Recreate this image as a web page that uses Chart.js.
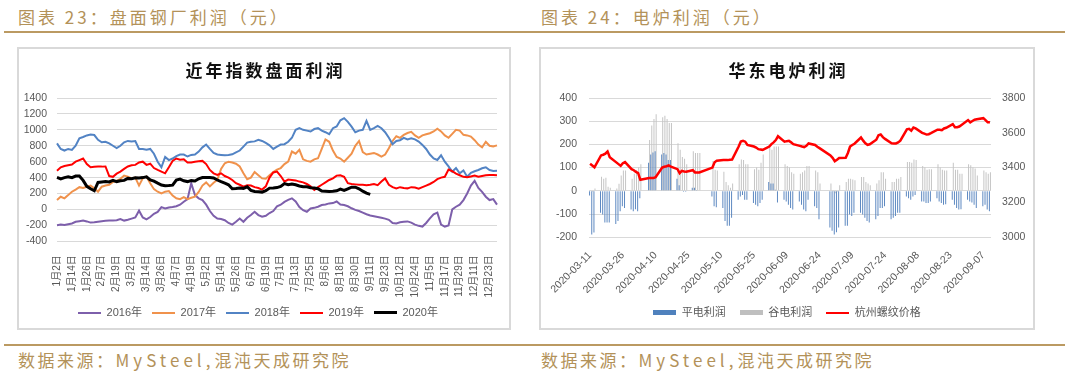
<!DOCTYPE html>
<html><head><meta charset="utf-8">
<script src="https://cdn.jsdelivr.net/npm/chart.js@4.4.1/dist/chart.umd.min.js"></script>
<style>
html,body{margin:0;padding:0;background:#fff;}
body{width:1072px;height:375px;position:relative;overflow:hidden;font-family:'Noto Sans CJK SC',sans-serif;}
.hdr{position:absolute;top:4px;font-size:17px;line-height:26px;color:#b39259;letter-spacing:3px;white-space:nowrap;}
.ftr{position:absolute;top:347px;font-size:17px;line-height:26px;color:#b39259;letter-spacing:2.5px;white-space:nowrap;}
.ftr span{letter-spacing:4px;}
.rule{position:absolute;left:4px;width:1061px;height:2px;background:#bb9a62;}
.box{position:absolute;top:47px;height:283px;border:2px solid #d9d9d9;box-sizing:border-box;}
.box canvas{position:absolute;left:0;top:0;}
.ttl{position:absolute;left:0;right:0;top:9px;padding-left:3px;text-align:center;font-size:17px;font-weight:700;line-height:24px;letter-spacing:3px;color:#111;}
</style></head><body>
<div class="hdr" style="left:18px">图表 23：盘面钢厂利润（元）</div>
<div class="hdr" style="left:541px">图表 24：电炉利润（元）</div>
<div class="rule" style="top:31px"></div>
<div class="box" style="left:17px;width:494px"><canvas id="c1" width="490" height="279"></canvas><div class="ttl">近年指数盘面利润</div></div>
<div class="box" style="left:539px;width:496px"><canvas id="c2" width="492" height="279"></canvas><div class="ttl">华东电炉利润</div></div>
<div class="rule" style="top:344px"></div>
<div class="ftr" style="left:18px">数据来源：<span>MySteel,</span>混沌天成研究院</div>
<div class="ftr" style="left:541px">数据来源：<span>MySteel,</span>混沌天成研究院</div>
<script>
// ---------- Chart 23 data ----------
const tickLabels23 = ['1月2日','1月14日','1月26日','2月7日','2月19日','3月2日','3月14日','3月26日','4月7日','4月19日','5月2日','5月14日','5月26日','6月7日','6月19日','7月1日','7月13日','7月25日','8月6日','8月18日','8月30日','9月11日','9月23日','10月12日','10月24日','11月5日','11月17日','11月29日','12月11日','12月23日'];
const seriesNames23 = ['2016年','2017年','2018年','2019年','2020年'];
const profit2016 = [-197,-190,-195,-185,-176,-155,-147,-140,-150,-165,-162,-155,-147,-143,-138,-140,-135,-120,-140,-130,-115,-100,-15,-100,-125,-95,-55,-30,30,13,25,30,40,60,97,130,330,180,140,118,60,-20,-80,-115,-120,-135,-170,-190,-155,-115,-155,-105,-70,-30,-71,-92,-80,-45,-20,40,60,95,120,140,100,30,-10,-29,13,20,34,55,63,76,80,100,63,55,40,15,-5,-20,-40,-60,-75,-85,-95,-105,-115,-130,-170,-176,-160,-155,-150,-165,-190,-206,-215,-170,-113,-60,-40,-190,-215,-200,0,34,60,118,200,300,360,270,220,160,118,130,60];
const profit2017 = [118,160,140,180,223,250,280,270,286,300,265,223,286,300,310,345,360,385,425,412,391,400,300,390,412,330,255,223,202,223,231,175,140,130,155,130,147,160,220,300,340,290,335,370,510,580,600,590,575,540,454,380,400,470,430,390,385,430,470,500,520,570,600,727,700,748,630,610,600,630,643,760,880,850,740,660,640,600,650,700,800,860,720,690,700,710,690,665,690,770,860,920,900,937,960,975,930,900,930,945,958,980,1015,980,930,900,950,1000,990,937,930,915,870,815,780,850,800,790,805];
const profit2018 = [830,760,740,760,748,800,895,910,930,940,935,874,844,850,830,800,770,800,844,861,855,860,760,760,750,760,700,600,530,660,620,640,670,690,690,665,685,690,727,780,815,760,710,690,685,680,685,693,718,740,790,840,850,855,874,860,835,805,760,790,815,820,850,900,1000,1021,1000,990,979,1010,1021,990,970,945,1021,1042,1120,1147,1100,1040,970,990,1000,1113,1000,1021,1050,1020,970,900,820,860,870,900,880,895,880,853,811,760,690,640,622,680,600,540,475,520,454,490,412,460,480,496,517,530,496,483,485];
const profit2019 = [487,529,546,555,565,600,620,640,570,530,535,538,538,540,420,410,450,475,510,540,555,560,590,600,560,575,520,496,475,454,530,610,640,625,630,590,590,600,605,610,570,496,454,433,454,420,400,370,330,310,286,305,300,280,270,250,290,400,465,475,420,350,375,370,365,350,340,320,290,245,280,310,340,370,390,425,430,410,330,320,315,310,310,305,310,320,305,350,390,310,280,265,280,270,265,280,275,260,280,300,320,345,380,400,410,500,480,450,430,410,405,415,425,410,420,430,433,433,430];
const profit2020 = [403,385,400,410,400,420,420,365,290,260,235,340,345,350,345,365,350,360,365,390,385,399,395,400,410,370,355,330,307,298,300,305,370,382,360,350,362,357,385,400,400,400,395,370,349,330,310,260,262,270,265,285,240,225,223,218,235,268,270,275,290,325,310,320,310,295,286,285,273,270,260,231,230,225,228,235,256,240,260,280,280,260,230,205,190];

// ---------- Chart 24 data ----------
const firstDay24 = '2020-03-11';
const dayCount24 = 184;
const holidays24 = ['2020-04-06','2020-05-01','2020-05-04','2020-05-05','2020-06-25','2020-06-26'];
const seriesNames24 = ['平电利润','谷电利润','杭州螺纹价格'];
const flatProfit = [-20,-188,-180, -95,-102,-137,-137,-137, -143,-130,-88,-67,-74, -81,-88,-80,-88,-32, 121,156,165,170, 156,163,156,133,133, 52,24,0,-4,-4, 13,13,3,0, -25,-67,-71, -74,-130,-151,-151,-116, -39,-25,-18,-39,-39, -53,-60,-67,-53,-39, 38,31,31,5,-50, -39,-46,-60,-74,-81, -46,-60,-81,-88,-39, -67,-74,-123, -158,-172,-188,-179,-158, -151,-151,-102,-109,-95, -95,-102,-116,-130,-137, -123,-109,-74,-74,-67, -123,-116,-109,-95,-95, -25,-32,-39,-25,-18, -46,-46,-53,-53,-46, -32,-46,-53,-60,-58, -39,-60,-74,-81,-80, -39,-46,-50,-60,-74, -67,-60,-81,-88];
const valleyProfit = [0,-5,10, 61,52,56,17,13, 10,30,66,87,87, 52,73,90,100,114, 219,282,310,330, 317,324,310,292,292, 205,177,146,138,114, 170,163,163,163, 128,91,87, 82,38,24,13,31, 114,135,133,114,114, 93,100,91,121,156, 191,177,191,191,191, 114,107,100,80,73, 73,80,87,107,107, 87,80,31, 31,-4,-11,-4,24, 38,52,52,49,45, 59,59,38,31,24, 31,45,80,80,52, 38,38,52,52,59, 124,124,121,135,133, 107,100,91,93,93, 114,100,91,87,87, 121,91,91,73,73, 114,110,100,96,66, 87,80,73,80];
const rebarPrice = [3422,3412,3402, 3470,3474,3480,3493,3460, 3430,3420,3410,3425,3432, 3391,3385,3375,3368,3330, 3340,3340,3340,3345, 3400,3405,3408,3413,3405, 3391,3368,3381,3378,3376, 3385,3372,3372,3372, 3400,3430,3440, 3443,3443,3443,3445,3446, 3521,3550,3554,3549,3530, 3521,3515,3506,3504,3502, 3521,3535,3545,3558,3580, 3549,3552,3554,3545,3535, 3525,3521,3518,3525,3539, 3530,3520,3512, 3470,3456,3437,3445,3455, 3456,3484,3521,3530,3537, 3573,3555,3540,3530,3534, 3560,3586,3590,3575,3565, 3540,3539,3539,3545,3555, 3620,3623,3612,3630,3625, 3600,3595,3590,3592,3598, 3618,3618,3615,3625,3629, 3650,3632,3632,3636,3645, 3673,3660,3668,3675,3678, 3684,3673,3660,3660];

// ---------- helpers ----------
const TICK = '#595959';
const GRID = '#d9d9d9';
const FONT = "'Liberation Sans','Noto Sans CJK SC',sans-serif";
const plain = v => String(v);
function swatch(color, w, h) {
  const c = document.createElement('canvas');
  c.width = w; c.height = h;
  const g = c.getContext('2d');
  g.fillStyle = color; g.fillRect(0, 0, w, h);
  return c;
}
function legendOpts(swatches, pad) {
  return {
    position: 'bottom',
    labels: {
      usePointStyle: true, pointStyleWidth: 23, padding: pad,
      color: TICK, font: {size: 11, family: FONT},
      generateLabels: chart => chart.data.datasets.map((ds, i) => ({
        text: ds.label, pointStyle: swatches[i], fillStyle: ds.borderColor,
        strokeStyle: ds.borderColor, lineWidth: 0, hidden: false, datasetIndex: i, fontColor: TICK
      }))
    }
  };
}

// ---------- Chart 23 ----------
const labels23 = [];
tickLabels23.forEach(t => { labels23.push(t, '', '', ''); });
while (labels23.length > profit2016.length) labels23.pop();
while (labels23.length < profit2016.length) labels23.push('');

const colors23 = ['#7d5fab', '#f0924c', '#5283c4', '#ff0000', '#000000'];
const widths23 = [2, 2, 2, 2, 3];
const values23 = [profit2016, profit2017, profit2018, profit2019, profit2020];
const sw23 = colors23.map((c, i) => swatch(c, 23, i === 4 ? 3 : 2));

new Chart(document.getElementById('c1'), {
  type: 'line',
  data: {
    labels: labels23,
    datasets: values23.map((v, i) => ({
      label: seriesNames23[i], data: v, borderColor: colors23[i], backgroundColor: colors23[i],
      borderWidth: widths23[i], pointRadius: 0, tension: 0, fill: false, order: 4 - i
    }))
  },
  options: {
    responsive: false, animation: false, devicePixelRatio: 1,
    layout: {padding: {top: 49, right: 12, bottom: 0, left: 0}},
    plugins: {legend: legendOpts(sw23, 10), tooltip: {enabled: false}, title: {display: false}},
    scales: {
      x: {
        grid: {display: false}, border: {display: false},
        ticks: {autoSkip: false, maxRotation: 90, minRotation: 90, padding: 6, color: TICK, font: {size: 10, family: FONT},
          callback: function(v, i) { const l = this.getLabelForValue(v); return l === '' ? null : l; }},
        afterFit: s => { s.height = 55.7; }
      },
      y: {
        min: -400, max: 1400,
        grid: {color: GRID, drawTicks: false}, border: {display: false},
        ticks: {stepSize: 200, padding: 10, color: TICK, font: {size: 10.5, family: FONT}, callback: plain},
        afterFit: s => { s.width = 38; }
      }
    }
  }
});

// ---------- Chart 24 ----------
const days24 = [];
const tradeDays24 = [];
{
  const [yy, mm, dd] = firstDay24.split('-').map(Number);
  const t0 = Date.UTC(yy, mm - 1, dd);
  for (let k = 0; k < dayCount24; k++) {
    const d = new Date(t0 + k * 86400000);
    const s = d.toISOString().slice(0, 10);
    days24.push(s);
    const wd = d.getUTCDay();
    if (wd !== 0 && wd !== 6 && !holidays24.includes(s)) tradeDays24.push(s);
  }
}
const pts = arr => tradeDays24.map((d, i) => ({x: d, y: arr[i]}));
const sw24 = [swatch('#4f81bd', 23, 5), swatch('#bfbfbf', 23, 5), swatch('#ff0000', 23, 2)];

new Chart(document.getElementById('c2'), {
  type: 'bar',
  data: {
    labels: days24,
    datasets: [
      {type: 'bar', label: seriesNames24[0], data: pts(flatProfit), backgroundColor: '#5b87c0', borderColor: '#4f81bd', borderWidth: 0, categoryPercentage: 0.95, barPercentage: 0.95, yAxisID: 'y', order: 2},
      {type: 'bar', label: seriesNames24[1], data: pts(valleyProfit), backgroundColor: '#c4c4c4', borderColor: '#bfbfbf', borderWidth: 0, categoryPercentage: 0.95, barPercentage: 0.95, yAxisID: 'y', order: 3},
      {type: 'line', label: seriesNames24[2], data: pts(rebarPrice), borderColor: '#ff0000', backgroundColor: '#ff0000', borderWidth: 2.5, pointRadius: 0, tension: 0, yAxisID: 'y1', order: 1}
    ]
  },
  options: {
    responsive: false, animation: false, devicePixelRatio: 1,
    layout: {padding: {top: 49, right: 0, bottom: 0, left: 0}},
    plugins: {legend: legendOpts(sw24, 14), tooltip: {enabled: false}, title: {display: false}},
    scales: {
      x: {
        offset: true,
        grid: {display: false}, border: {display: false},
        ticks: {autoSkip: false, maxRotation: 45, minRotation: 45, padding: 4, color: TICK, font: {size: 10.5, family: FONT},
          callback: function(v, i) { return i % 15 === 0 ? this.getLabelForValue(v) : null; }},
        afterFit: s => { s.height = 55.8; }
      },
      y: {
        min: -200, max: 400, position: 'left',
        grid: {color: GRID, drawTicks: false}, border: {display: false},
        ticks: {stepSize: 100, padding: 12, color: TICK, font: {size: 10.5, family: FONT}, callback: plain},
        afterFit: s => { s.width = 48; }
      },
      y1: {
        min: 3000, max: 3800, position: 'right',
        grid: {display: false, drawTicks: false}, border: {display: false},
        ticks: {stepSize: 200, padding: 11, color: TICK, font: {size: 10.5, family: FONT}, callback: plain},
        afterFit: s => { s.width = 42; }
      }
    }
  }
});
</script>
</body></html>
